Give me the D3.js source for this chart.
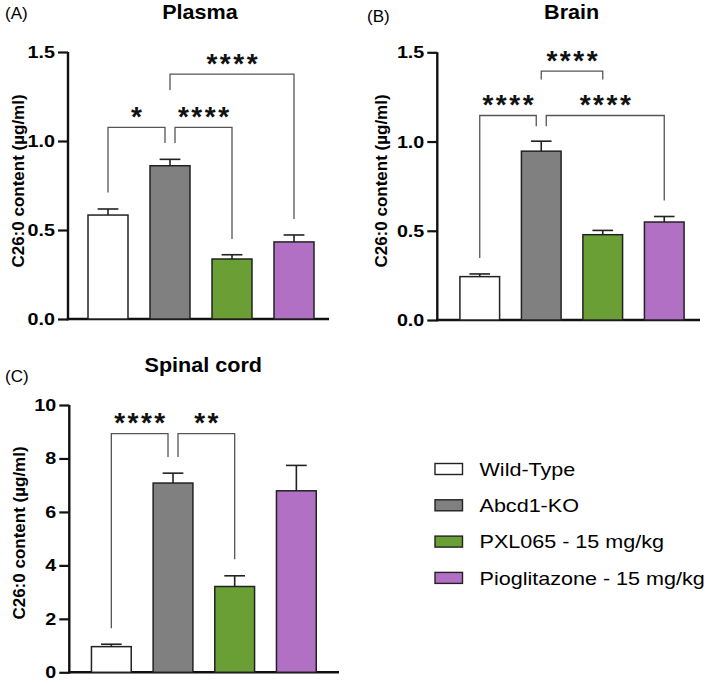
<!DOCTYPE html>
<html><head><meta charset="utf-8">
<script src="https://cdn.jsdelivr.net/npm/d3@7"></script>
<style>body{margin:0;background:#fff}svg{display:block}</style>
</head><body>
<svg id="c" width="709" height="684"></svg>
<script>
// ---------- data ----------
const groups = ["Wild-Type", "Abcd1-KO", "PXL065 - 15 mg/kg", "Pioglitazone - 15 mg/kg"];
const colors = ["#ffffff", "#808080", "#6a9f35", "#b270c4"];

const plasmaMean = [0.584, 0.861, 0.337, 0.433];
const plasmaSem  = [0.034, 0.036, 0.024, 0.039];
const brainMean  = [0.243, 0.946, 0.478, 0.549];
const brainSem   = [0.015, 0.056, 0.024, 0.031];
const spinalMean = [0.96, 7.08, 3.21, 6.79];
const spinalSem  = [0.09, 0.37, 0.40, 0.95];

const plasmaTicks = [0, 0.5, 1.0, 1.5];
const brainTicks  = [0, 0.5, 1.0, 1.5];
const spinalTicks = [0, 2, 4, 6, 8, 10];

// significance brackets: from group, to group, bracket level, leg ends, label
const plasmaBrackets = [
  {from: 0, to: 1, level: 1.077, endFrom: 0.71,  endTo: 0.989, label: "*"},
  {from: 1, to: 2, level: 1.077, endFrom: 0.989, endTo: 0.45,  label: "****"},
  {from: 1, to: 3, level: 1.376, endFrom: 1.287, endTo: 0.562, label: "****"}
];
const brainBrackets = [
  {from: 0, to: 1, level: 1.146, endFrom: 0.347, endTo: 1.086, label: "****"},
  {from: 1, to: 3, level: 1.146, endFrom: 1.086, endTo: 0.669, label: "****"},
  {from: 1, to: 2, level: 1.395, endFrom: 1.348, endTo: 1.348, label: "****"}
];
const spinalBrackets = [
  {from: 0, to: 1, level: 8.93, endFrom: 1.65, endTo: 8.05, label: "****"},
  {from: 1, to: 2, level: 8.93, endFrom: 8.05, endTo: 4.23, label: "**"}
];

// ---------- drawing ----------
const svg = d3.select("#c");
const FONT = "'Liberation Sans', Arial, Helvetica, sans-serif";

function stretchedText(g, x, y, txt, opts) {
  const sx = opts.sx || 1;
  return g.append("text")
    .attr("transform", `translate(${x},${y}) scale(${sx},1)`)
    .attr("text-anchor", opts.anchor || "start")
    .attr("font-family", FONT)
    .attr("font-size", opts.size)
    .attr("font-weight", opts.weight || "normal")
    .attr("fill", "#000")
    .text(txt);
}

function panel(cfg) {
  const g = svg.append("g");
  const y = d3.scaleLinear().domain([cfg.ticks[0], cfg.ticks[cfg.ticks.length - 1]]).range([cfg.y0, cfg.y1]);
  const x = d3.scaleBand().domain(d3.range(groups.length)).range([cfg.bx0, cfg.bx1])
    .paddingInner(0.355).paddingOuter(0.1775);
  const bw = x.bandwidth();
  const cx = i => x(i) + bw / 2;

  // y axis
  const yAxis = d3.axisLeft(y).tickValues(cfg.ticks).tickSize(10).tickPadding(3)
    .tickFormat(cfg.fmt);
  const ga = g.append("g").attr("transform", `translate(${cfg.ax},0)`).call(yAxis);
  ga.select(".domain").attr("stroke", "#111").attr("stroke-width", 2.4)
    .attr("d", `M0,${cfg.y0 + 1.2}V${cfg.y1}`);
  ga.selectAll(".tick line").attr("stroke", "#111").attr("stroke-width", 2.2);
  ga.selectAll(".tick text").remove();
  cfg.ticks.forEach(t => {
    stretchedText(g, cfg.ax - 13, y(t) + 6, cfg.fmt(t), {size: 17, weight: "bold", anchor: "end", sx: 1.16});
  });
  // x axis line
  g.append("line").attr("x1", cfg.ax - 1.2).attr("x2", cfg.axEnd)
    .attr("y1", y(0)).attr("y2", y(0)).attr("stroke", "#111").attr("stroke-width", 2.4);

  // bars
  g.selectAll("rect.bar").data(cfg.mean).join("rect").attr("class", "bar")
    .attr("x", (d, i) => x(i)).attr("width", bw)
    .attr("y", d => y(d)).attr("height", d => y(0) - y(d))
    .attr("fill", (d, i) => colors[i]).attr("stroke", "#222").attr("stroke-width", 1.5);
  // error bars (mean + SEM)
  const eg = g.selectAll("g.err").data(cfg.mean).join("g").attr("class", "err");
  eg.append("line").attr("x1", (d, i) => cx(i)).attr("x2", (d, i) => cx(i))
    .attr("y1", d => y(d)).attr("y2", (d, i) => y(d + cfg.sem[i]))
    .attr("stroke", "#222").attr("stroke-width", 1.6);
  eg.append("line").attr("x1", (d, i) => cx(i) - bw * 0.26).attr("x2", (d, i) => cx(i) + bw * 0.26)
    .attr("y1", (d, i) => y(d + cfg.sem[i])).attr("y2", (d, i) => y(d + cfg.sem[i]))
    .attr("stroke", "#222").attr("stroke-width", 1.6);

  // brackets
  const nudge = 5;
  cfg.brackets.forEach(b => {
    let xa = cx(b.from), xb = cx(b.to);
    cfg.brackets.forEach(o => {
      if (o === b || o.level !== b.level) return;
      if (o.from === b.to || o.to === b.to) xb -= nudge;
      if (o.to === b.from || o.from === b.from) xa += nudge;
    });
    const ly = y(b.level);
    g.append("path")
      .attr("d", `M${xa},${y(b.endFrom)}V${ly}H${xb}V${y(b.endTo)}`)
      .attr("fill", "none").attr("stroke", "#555").attr("stroke-width", 1.3);
    const ls = 2.5;
    g.append("text")
      .attr("x", (xa + xb) / 2 + ls / 2).attr("y", ly - 17 + 15.7)
      .attr("text-anchor", "middle").attr("font-family", FONT)
      .attr("font-size", 28).attr("font-weight", "bold")
      .attr("letter-spacing", ls).attr("fill", "#111").text(b.label);
  });

  // title, panel letter, y label
  stretchedText(g, cfg.titleX, cfg.titleY, cfg.title, {size: 20, weight: "bold", anchor: "middle", sx: 1.08});
  stretchedText(g, cfg.letterX, cfg.letterY, cfg.letter, {size: 17, sx: 1.0});
  g.append("text")
    .attr("transform", `translate(${cfg.labX},${cfg.labY}) rotate(-90)`)
    .attr("text-anchor", "middle").attr("font-family", FONT)
    .attr("font-size", 17).attr("font-weight", "bold").attr("fill", "#000")
    .text("C26:0 content (µg/ml)");
}

const f1 = d3.format(".1f");
const f0 = d3.format("d");

panel({mean: plasmaMean, sem: plasmaSem, ticks: plasmaTicks, brackets: plasmaBrackets, fmt: f1,
  ax: 68, axEnd: 329, y0: 319, y1: 52, bx0: 77, bx1: 325,
  title: "Plasma", titleX: 200, titleY: 18.5, letter: "(A)", letterX: 5, letterY: 18.5,
  labX: 24, labY: 181});
panel({mean: brainMean, sem: brainSem, ticks: brainTicks, brackets: brainBrackets, fmt: f1,
  ax: 437.3, axEnd: 700, y0: 320, y1: 52.3, bx0: 449, bx1: 695,
  title: "Brain", titleX: 571.7, titleY: 18.5, letter: "(B)", letterX: 367, letterY: 21.5,
  labX: 387, labY: 181});
panel({mean: spinalMean, sem: spinalSem, ticks: spinalTicks, brackets: spinalBrackets, fmt: f0,
  ax: 69.3, axEnd: 339, y0: 672.3, y1: 405, bx0: 80.5, bx1: 327.2,
  title: "Spinal cord", titleX: 203.3, titleY: 371.5, letter: "(C)", letterX: 5, letterY: 381.5,
  labX: 25, labY: 533});

// legend
const lg = svg.append("g");
groups.forEach((name, i) => {
  const cy = 469 + i * 36.3;
  lg.append("rect").attr("x", 435).attr("y", cy - 5.5).attr("width", 27.5).attr("height", 11)
    .attr("fill", colors[i]).attr("stroke", "#222").attr("stroke-width", 1.4);
  stretchedText(lg, 479.5, cy + 6.7, name, {size: 18.6, sx: 1.16});
});
</script>
</body></html>
